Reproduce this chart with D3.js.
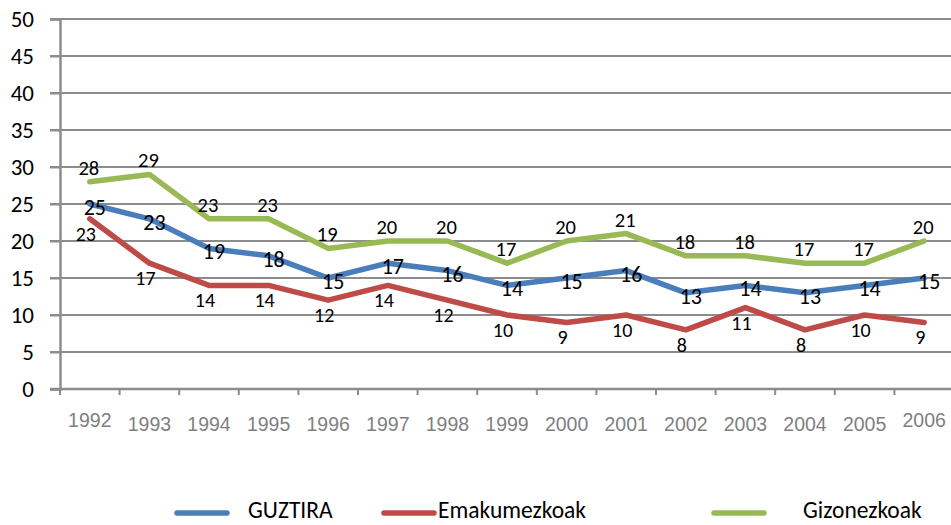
<!DOCTYPE html>
<html>
<head>
<meta charset="utf-8">
<script src="https://cdn.jsdelivr.net/npm/d3@7"></script>
<style>
  body { margin: 0; background: #fff; }
  svg { display: block; }
</style>
</head>
<body>
<div id="chart"></div>
<script>
var svgWidth = 951, svgHeight = 525;

// data
var years = ["1992","1993","1994","1995","1996","1997","1998","1999","2000","2001","2002","2003","2004","2005","2006"];
var guztira = [25,23,19,18,15,17,16,14,15,16,13,14,13,14,15];
var emakume = [23,17,14,14,12,14,12,10,9,10,8,11,8,10,9];
var gizon = [28,29,23,23,19,20,20,17,20,21,18,18,17,17,20];
var yTicks = [0,5,10,15,20,25,30,35,40,45,50];

var seriesNames = ["GUZTIRA", "Emakumezkoak", "Gizonezkoak"];
var seriesColors = ["#4a7ebb", "#be4b48", "#98b954"];

var font = "Carlito, 'Noto Sans', sans-serif";

var svg = d3.select("#chart").append("svg")
  .attr("width", svgWidth)
  .attr("height", svgHeight);

// scales
var x = d3.scaleBand().domain(years).range([60, 60 + 15 * 59.6]);
var y = d3.scaleLinear().domain([0, 50]).range([389, 19]);

// gridlines
svg.append("g").selectAll("line")
  .data(yTicks.filter(d => d > 0))
  .enter().append("line")
  .attr("x1", 50).attr("x2", svgWidth)
  .attr("y1", d => y(d)).attr("y2", d => y(d))
  .attr("stroke", "#8c8c8c").attr("stroke-width", 2);

// y axis
var yAxis = svg.append("g")
  .attr("transform", "translate(60,0)")
  .call(d3.axisLeft(y).tickValues(yTicks).tickSize(10).tickPadding(16));
yAxis.select(".domain").attr("stroke", "#8c8c8c").attr("stroke-width", 2.5);
yAxis.selectAll(".tick line").attr("stroke", "#8c8c8c").attr("stroke-width", 2);
yAxis.selectAll("text")
  .attr("font-family", font).attr("font-size", 23).attr("fill", "#000");

// x axis
var xTickPos = years.map(d => x(d)).concat([x.range()[1]]);
var xAxisG = svg.append("g");
xAxisG.append("line")
  .attr("x1", 50).attr("x2", svgWidth)
  .attr("y1", y(0)).attr("y2", y(0))
  .attr("stroke", "#8c8c8c").attr("stroke-width", 2.5);
xAxisG.selectAll("line.tk")
  .data(xTickPos)
  .enter().append("line")
  .attr("class", "tk")
  .attr("x1", d => d).attr("x2", d => d)
  .attr("y1", y(0)).attr("y2", y(0) + 6)
  .attr("stroke", "#8c8c8c").attr("stroke-width", 2);
xAxisG.selectAll("text")
  .data(years)
  .enter().append("text")
  .attr("x", d => x(d) + x.bandwidth() / 2)
  .attr("y", (d, i) => (i === 0 || i === years.length - 1) ? 427 : 431)
  .attr("text-anchor", "middle")
  .attr("font-family", "'Liberation Sans', Arial, sans-serif")
  .attr("font-size", 19.5)
  .attr("fill", "#7f7f7f")
  .text(d => d);

// lines
var allSeries = [guztira, emakume, gizon];
var line = d3.line()
  .x((d, i) => x(years[i]) + x.bandwidth() / 2)
  .y(d => y(d));

allSeries.forEach(function(vals, s) {
  svg.append("path")
    .datum(vals)
    .attr("d", line)
    .attr("fill", "none")
    .attr("stroke", seriesColors[s])
    .attr("stroke-width", 5.5)
    .attr("stroke-linejoin", "round")
    .attr("stroke-linecap", "round");
});

// data labels: blue centered, red below, green above
var labelDy = [11, 22, -7];
var labelDx = [5, -4, -1];
var labelSize = [22, 20, 20.5];
allSeries.forEach(function(vals, s) {
  svg.append("g").selectAll("text")
    .data(vals)
    .enter().append("text")
    .attr("x", (d, i) => x(years[i]) + x.bandwidth() / 2 + labelDx[s])
    .attr("y", d => y(d) + labelDy[s])
    .attr("text-anchor", "middle")
    .attr("font-family", font)
    .attr("font-size", labelSize[s])
    .attr("fill", "#000")
    .text(d => d);
});

// legend
var legendX = [175, 382, 712];
var legendTextX = [248, 438, 803];
var legend = svg.append("g");
seriesNames.forEach(function(name, s) {
  legend.append("line")
    .attr("x1", legendX[s] + 2).attr("x2", legendX[s] + 52)
    .attr("y1", 513).attr("y2", 513)
    .attr("stroke", seriesColors[s]).attr("stroke-width", 5.5)
    .attr("stroke-linecap", "round");
  legend.append("text")
    .attr("x", legendTextX[s])
    .attr("y", 518)
    .attr("font-family", font)
    .attr("font-size", 23.5)
    .attr("fill", "#000")
    .text(name);
});
</script>
</body>
</html>
